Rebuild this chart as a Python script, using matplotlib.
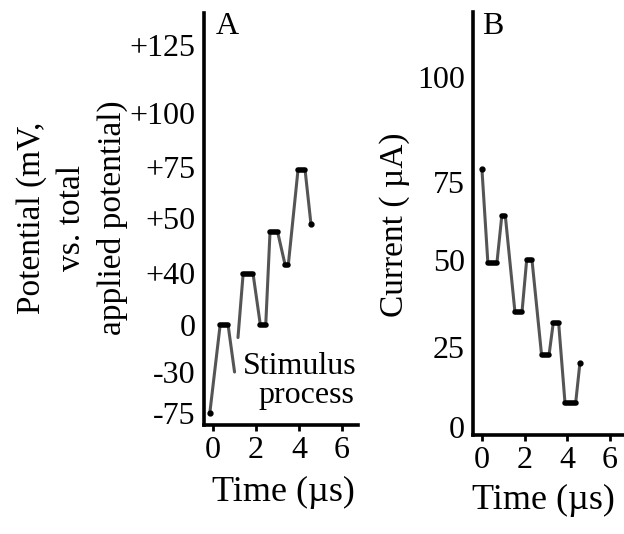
import numpy as np
import matplotlib
matplotlib.use("Agg")
import matplotlib.pyplot as plt

plt.rcParams['font.family'] = ['Liberation Serif', 'DejaVu Serif']

# panel A: stimulus potential (mV), nan = break in the trace
a_time = [-0.15, 0.33, 0.7, 1.0, np.nan, 1.16, 1.4, 1.86, 2.2, 2.45, 2.65, 3.0, 3.35, 3.5, 3.95, 4.28, 4.55]
a_pot = [-75, 0, 0, -30, np.nan, -8, 39.5, 39.5, 0, 0, 47.5, 47.5, 41.5, 41.5, 73.5, 73.5, 49]
a_ticks = [-75, -30, 0, 40, 50, 75, 100, 125]
a_tick_labels = ['-75', '-30', '0', '+40', '+50', '+75', '+100', '+125']

# panel B: current (uA)
b_time = [0.0, 0.28, 0.7, 0.93, 1.1, 1.55, 1.88, 2.1, 2.35, 2.8, 3.15, 3.35, 3.6, 3.9, 4.4, 4.6]
b_cur = [78, 49, 49, 64, 64, 35, 35, 50, 50, 22.5, 22.5, 32, 32, 7.5, 7.5, 20]
b_ticks = [0, 25, 50, 75, 100]

x_ticks = [0, 2, 4, 6]

# the hand-drawn axes are not evenly spaced: map values to pixel heights
a_scale_val = [-88, -75, -30, 0, 40, 50, 75, 100, 125, 137]
a_scale_pos = [0, 12, 53, 100, 152, 207, 258, 312, 380, 412]
b_scale_val = [-2.5, 0, 25, 50, 75, 100, 115.5]
b_scale_pos = [0, 8, 88, 175, 253, 358, 423]


def make_scale(vals, pos):
    fwd = lambda v: np.interp(v, vals, pos)
    inv = lambda p: np.interp(p, pos, vals)
    return fwd, inv


FS = 23
W, H = 624, 534
fig = plt.figure(figsize=(W / 100, H / 100), dpi=100)

axA = fig.add_axes([204 / W, 1 - 425 / H, 154 / W, 412 / H])
axB = fig.add_axes([473 / W, 1 - 435 / H, 151 / W, 423 / H])


def draw_trace(ax, t, y):
    t = np.array(t, dtype=float)
    y = np.array(y, dtype=float)
    ax.plot(t, y, color='#555555', lw=2.2, solid_capstyle='round')
    # flat tops drawn heavier, like the original sketch
    for i in range(len(t) - 1):
        if y[i] == y[i + 1]:
            ax.plot(t[i:i + 2], y[i:i + 2], color='black', lw=4, solid_capstyle='round')
    ok = ~np.isnan(t)
    ax.plot(t[ok][[0, -1]], y[ok][[0, -1]], 'o', color='black', ms=3.5)


for ax in (axA, axB):
    for s in ('top', 'right'):
        ax.spines[s].set_visible(False)
    for s in ('left', 'bottom'):
        ax.spines[s].set_linewidth(2.6)
    ax.set_xticks(x_ticks)
    ax.set_xticklabels([str(v) for v in x_ticks], fontsize=FS)
    ax.tick_params(axis='x', length=4, width=2, pad=4)
    ax.tick_params(axis='y', length=0, pad=6, labelsize=FS)
    ax.set_facecolor('none')

# panel A
axA.set_yscale('function', functions=make_scale(a_scale_val, a_scale_pos))
draw_trace(axA, a_time, a_pot)
axA.set_xlim(-0.42, 6.74)
axA.set_ylim(-88, 137)
axA.set_yticks(a_ticks)
axA.set_yticklabels(a_tick_labels)
axA.minorticks_off()

# panel B
axB.set_yscale('function', functions=make_scale(b_scale_val, b_scale_pos))
draw_trace(axB, b_time, b_cur)
axB.set_xlim(-0.42, 6.67)
axB.set_ylim(-2.5, 115.5)
axB.set_yticks(b_ticks)
axB.set_yticklabels([str(v) for v in b_ticks])
axB.minorticks_off()

# texts
fig.text(227 / W, 1 - 27 / H, 'A', fontsize=FS, ha='center', va='center')
fig.text(493 / W, 1 - 27 / H, 'B', fontsize=FS, ha='center', va='center')
fig.text(300 / W, 1 - 367 / H, 'Stimulus', fontsize=FS, ha='center', va='center')
fig.text(306 / W, 1 - 395 / H, 'process', fontsize=FS, ha='center', va='center')
fig.text(72 / W, 1 - 218 / H, 'Potential (mV,\nvs. total\napplied potential)', fontsize=24,
         rotation=90, ha='center', va='center', multialignment='center', linespacing=1.4)
fig.text(395 / W, 1 - 225 / H, 'Current ( µA)', fontsize=24, rotation=90, ha='center', va='center')
fig.text(283 / W, 1 - 492 / H, 'Time (µs)', fontsize=26, ha='center', va='center')
fig.text(543 / W, 1 - 500 / H, 'Time (µs)', fontsize=26, ha='center', va='center')

fig.savefig('out.png', dpi=100)
